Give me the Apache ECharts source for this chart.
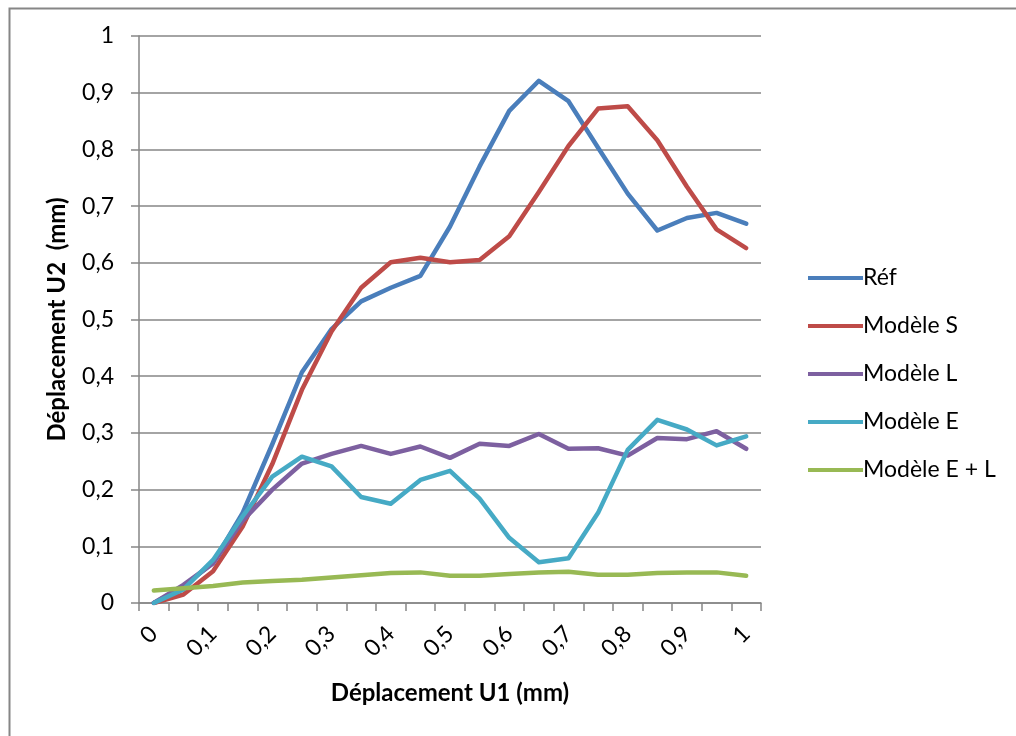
<!DOCTYPE html>
<html>
<head>
<meta charset="utf-8">
<script src="https://cdn.jsdelivr.net/npm/echarts@6/dist/echarts.min.js"></script>
<style>
  html, body { margin: 0; padding: 0; background: #fff; }
</style>
</head>
<body>
<div id="myChart" style="width: 1016px; height: 736px;"></div>
<script>
  // catégories de l'axe U1 (un point tous les 0,05)
  var categories = ['0', '0,05', '0,1', '0,15', '0,2', '0,25', '0,3', '0,35', '0,4', '0,45', '0,5',
    '0,55', '0,6', '0,65', '0,7', '0,75', '0,8', '0,85', '0,9', '0,95', '1'];

  // déplacement U2 (mm) pour chaque série
  var ref = [0, 0.029, 0.071, 0.159, 0.28, 0.407, 0.483, 0.532, 0.556, 0.577, 0.664,
    0.77, 0.868, 0.921, 0.885, 0.803, 0.722, 0.657, 0.679, 0.688, 0.669];
  var modeleS = [0, 0.015, 0.056, 0.135, 0.245, 0.376, 0.479, 0.556, 0.601, 0.609, 0.601,
    0.605, 0.647, 0.725, 0.806, 0.872, 0.876, 0.816, 0.734, 0.659, 0.626];
  var modeleL = [0, 0.032, 0.07, 0.145, 0.2, 0.246, 0.263, 0.277, 0.263, 0.276, 0.256,
    0.281, 0.277, 0.298, 0.272, 0.273, 0.26, 0.291, 0.289, 0.303, 0.272];
  var modeleE = [0, 0.024, 0.076, 0.153, 0.223, 0.258, 0.241, 0.187, 0.175, 0.217, 0.233,
    0.184, 0.115, 0.072, 0.079, 0.159, 0.27, 0.323, 0.306, 0.278, 0.294];
  var modeleEL = [0.022, 0.026, 0.03, 0.036, 0.039, 0.041, 0.045, 0.049, 0.053, 0.054, 0.048,
    0.048, 0.051, 0.054, 0.055, 0.05, 0.05, 0.053, 0.054, 0.054, 0.048];

  var seriesNames = ['Réf', 'Modèle S', 'Modèle L', 'Modèle E', 'Modèle E + L'];
  var seriesData = [ref, modeleS, modeleL, modeleE, modeleEL];
  var colors = ['#4A7EBB', '#BE4B48', '#7D60A0', '#46AAC5', '#98B954'];

  var gris = '#868686';
  var police = 'Lato, "Liberation Sans", sans-serif';

  var myChart = echarts.init(document.getElementById('myChart'));

  myChart.setOption({
    backgroundColor: '#ffffff',
    animation: false,
    color: colors,
    textStyle: { fontFamily: police },
    graphic: [{
      // cadre du graphique
      type: 'rect',
      left: 7,
      top: 6,
      shape: { width: 1100, height: 800 },
      style: { fill: 'none', stroke: gris, lineWidth: 2 },
      silent: true
    }],
    legend: {
      orient: 'vertical',
      left: 803,
      top: 261,
      icon: 'rect',
      itemWidth: 55,
      itemHeight: 4,
      itemGap: 24,
      textStyle: { color: '#000', fontSize: 23, lineHeight: 24, fontFamily: police, padding: [0, 0, 0, -5] },
      data: seriesNames
    },
    grid: {
      left: 139,
      right: 255,
      top: 36,
      bottom: 133
    },
    xAxis: {
      type: 'category',
      data: categories,
      boundaryGap: true,
      name: 'Déplacement U1 (mm)',
      nameLocation: 'middle',
      nameGap: 78,
      nameTextStyle: { color: '#000', fontSize: 24, fontWeight: 'bold', fontFamily: police },
      axisLine: { lineStyle: { color: gris, width: 1.5 } },
      axisTick: { show: true, interval: 0, length: 8, lineStyle: { color: gris, width: 1.5 } },
      axisLabel: {
        interval: 1,
        rotate: 45,
        margin: 27,
        color: '#000',
        fontSize: 23,
        fontFamily: police
      },
      splitLine: { show: false }
    },
    yAxis: {
      type: 'value',
      min: 0,
      max: 1,
      interval: 0.1,
      name: 'Déplacement U2  (mm)',
      nameLocation: 'middle',
      nameGap: 70,
      nameTextStyle: { color: '#000', fontSize: 24, fontWeight: 'bold', fontFamily: police },
      axisLine: { show: true, lineStyle: { color: gris, width: 1.5 } },
      axisTick: { show: true, length: 8, lineStyle: { color: gris, width: 1.5 } },
      axisLabel: {
        margin: 25,
        color: '#000',
        fontSize: 23,
        fontFamily: police,
        formatter: function (v) {
          return String(Math.round(v * 10) / 10).replace('.', ',');
        }
      },
      splitLine: { lineStyle: { color: gris, width: 1.5 } }
    },
    series: seriesNames.map(function (nom, i) {
      return {
        name: nom,
        type: 'line',
        data: seriesData[i],
        showSymbol: false,
        symbol: 'none',
        lineStyle: { width: 4.5, color: colors[i], cap: 'round', join: 'round' },
        itemStyle: { color: colors[i] }
      };
    })
  });
</script>
</body>
</html>
